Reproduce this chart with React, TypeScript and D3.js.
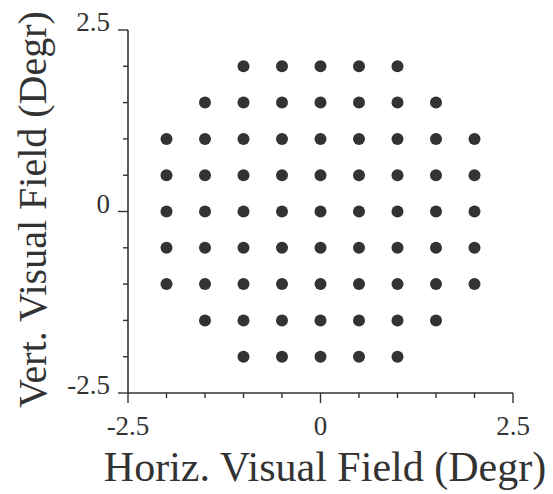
import React from "react";
import * as d3 from "d3";

// Visual field sample locations (degrees), listed row by row
const rowY: number[] = [2, 1.5, 1, 0.5, 0, -0.5, -1, -1.5, -2];
const rowX: number[][] = [
  [-1, -0.5, 0, 0.5, 1],
  [-1.5, -1, -0.5, 0, 0.5, 1, 1.5],
  [-2, -1.5, -1, -0.5, 0, 0.5, 1, 1.5, 2],
  [-2, -1.5, -1, -0.5, 0, 0.5, 1, 1.5, 2],
  [-2, -1.5, -1, -0.5, 0, 0.5, 1, 1.5, 2],
  [-2, -1.5, -1, -0.5, 0, 0.5, 1, 1.5, 2],
  [-2, -1.5, -1, -0.5, 0, 0.5, 1, 1.5, 2],
  [-1.5, -1, -0.5, 0, 0.5, 1, 1.5],
  [-1, -0.5, 0, 0.5, 1],
];

const tickValues: number[] = [-2.5, -2, -1.5, -1, -0.5, 0, 0.5, 1, 1.5, 2, 2.5];
const labeledTicks: number[] = [-2.5, 0, 2.5];
const xTitle = "Horiz. Visual Field (Degr)";
const yTitle = "Vert. Visual Field (Degr)";

const W = 553;
const H = 494;
const ink = "#333";
const font = "'Liberation Serif', 'Times New Roman', serif";

export default function App() {
  const x = d3.scaleLinear().domain([-2.5, 2.5]).range([128, 513]);
  const y = d3.scaleLinear().domain([-2.5, 2.5]).range([393, 30]);
  const fmt = (v: number) => (v === 0 ? "0" : String(v));

  const points: { x: number; y: number }[] = [];
  rowY.forEach((yy, i) => rowX[i].forEach((xx) => points.push({ x: xx, y: yy })));

  const x0 = x(-2.5);
  const yBase = y(-2.5);

  return (
    <svg
      width={W}
      height={H}
      style={{ position: "absolute", left: 0, top: 0, background: "#fff" }}
    >
      <rect width={W} height={H} fill="#fff" />
      {/* y axis */}
      <line x1={x0} x2={x0} y1={y(2.5)} y2={yBase} stroke={ink} strokeWidth={1.6} />
      {tickValues.map((t) => {
        const major = labeledTicks.includes(t);
        return (
          <line
            key={"yt" + t}
            x1={x0 - (major ? 10 : 5)}
            x2={x0}
            y1={y(t)}
            y2={y(t)}
            stroke={ink}
            strokeWidth={1.4}
          />
        );
      })}
      {labeledTicks.map((t) => (
        <text
          key={"yl" + t}
          x={110}
          y={y(t) + 1}
          textAnchor="end"
          fontSize={27}
          fill={ink}
          style={{ fontFamily: font }}
        >
          {fmt(t)}
        </text>
      ))}
      {/* x axis */}
      <line x1={x0} x2={x(2.5)} y1={yBase} y2={yBase} stroke={ink} strokeWidth={1.6} />
      {tickValues.map((t) => {
        const major = labeledTicks.includes(t);
        return (
          <line
            key={"xt" + t}
            x1={x(t)}
            x2={x(t)}
            y1={yBase}
            y2={yBase + (major ? 10 : 5)}
            stroke={ink}
            strokeWidth={1.4}
          />
        );
      })}
      {labeledTicks.map((t) => (
        <text
          key={"xl" + t}
          x={x(t)}
          y={435}
          textAnchor="middle"
          fontSize={27}
          fill={ink}
          style={{ fontFamily: font }}
        >
          {fmt(t)}
        </text>
      ))}
      {/* titles */}
      <text
        x={325}
        y={481}
        textAnchor="middle"
        fontSize={42}
        fill={ink}
        style={{ fontFamily: font }}
      >
        {xTitle}
      </text>
      <text
        transform={`translate(46, ${y(0) - 2}) rotate(-90)`}
        textAnchor="middle"
        fontSize={40}
        fill={ink}
        style={{ fontFamily: font }}
      >
        {yTitle}
      </text>
      {/* points */}
      {points.map((p, i) => (
        <circle key={i} cx={x(p.x)} cy={y(p.y)} r={6} fill={ink} />
      ))}
    </svg>
  );
}
